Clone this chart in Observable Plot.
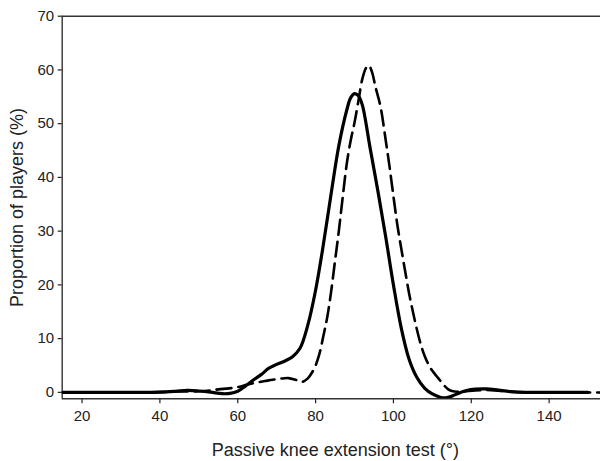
<!DOCTYPE html>
<html>
<head>
<meta charset="utf-8">
<script src="https://cdn.jsdelivr.net/npm/d3@7"></script>
<script src="https://cdn.jsdelivr.net/npm/@observablehq/plot@0.6"></script>
<style>
  body { margin: 0; background: #fff; }
  svg { display: block; }
</style>
</head>
<body>
<div id="chart"></div>
<script>
// Distribution of passive knee extension test angles (proportion of players)
// Solid curve
const solidAngle = [15, 25, 35, 40, 44, 47, 50, 53, 56, 58,
  60, 62, 64, 66, 68, 70, 72, 74, 76, 78,
  80, 82, 84, 86, 88, 89, 90, 91, 92, 94,
  96, 98, 100, 102, 104, 106, 108, 110, 112, 113.5,
  115, 117, 119, 121, 124, 127, 130, 134, 140, 150];
const solidPct = [0, 0, 0, 0.05, 0.2, 0.35, 0.25, 0.05, -0.25, -0.2,
  0.2, 1.2, 2.3, 3.3, 4.5, 5.2, 5.8, 6.6, 8.2, 12.5,
  19, 27.5, 37, 46, 52.5, 54.8, 55.6, 55.2, 53.5, 45.5,
  37.5, 29, 20, 12, 6.2, 2.8, 0.8, -0.3, -0.9, -1.0,
  -0.7, -0.1, 0.4, 0.6, 0.65, 0.4, 0.15, 0, 0, 0];

// Dashed curve
const dashAngle = [15, 30, 40, 45, 50, 53, 55, 57, 59, 61,
  63, 65, 67, 69, 71, 73, 75, 76.5, 78, 79,
  80, 81, 82, 83, 84, 85, 86, 87, 88, 89,
  90, 91, 92, 93, 93.7, 94.5, 95.4, 96.7, 98, 99,
  100, 101, 102, 103, 104, 105, 106, 107, 108, 109,
  110, 111, 112, 113, 114, 115, 117, 121, 124, 127,
  130, 135, 160];
const dashPct = [0, 0, 0.05, 0.15, 0.2, 0.35, 0.55, 0.7, 0.85, 1.15,
  1.55, 1.85, 2.1, 2.35, 2.55, 2.65, 2.3, 1.95, 2.6, 3.6,
  5.0, 7.2, 10.5, 14.0, 18.8, 24.5, 30.2, 36.5, 42.5, 46.8,
  50.2, 54.2, 58.3, 60.4, 60.8, 59.6, 56.8, 53.1, 47, 42,
  36.5, 31.2, 26.8, 22.6, 18.5, 15, 11.8, 9.0, 6.8, 5.2,
  4.0, 3.1, 2.2, 1.3, 0.6, 0.25, 0.1, 0.35, 0.45, 0.3,
  0.1, 0, 0];

const xTicks = [20, 40, 60, 80, 100, 120, 140];
const yTicks = [0, 10, 20, 30, 40, 50, 60, 70];
const xTitle = "Passive knee extension test (°)";
const yTitle = "Proportion of players (%)";

const solid = solidAngle.map((a, i) => ({angle: a, pct: solidPct[i]}));
const dashed = dashAngle.map((a, i) => ({angle: a, pct: dashPct[i]}));

const xMin = 14.9, xMax = 153.2, yMin = -1.2, yMax = 70;

const chart = Plot.plot({
  width: 600,
  height: 461,
  marginLeft: 61.7,
  marginRight: 0,
  marginTop: 15.7,
  marginBottom: 62.7,
  style: {fontFamily: "'Liberation Sans', Arial, sans-serif", background: "#fff", color: "#222"},
  x: {domain: [xMin, xMax]},
  y: {domain: [yMin, yMax]},
  marks: [
    Plot.ruleX([xMin], {stroke: "#333", strokeWidth: 1.4}),
    Plot.ruleY([yMax, yMin], {stroke: "#333", strokeWidth: 1.4}),
    Plot.axisY({ticks: yTicks, tickSize: 4, tickPadding: 4, fontSize: 15, label: null, strokeWidth: 1.2}),
    Plot.axisX({ticks: xTicks, tickSize: 5, tickPadding: 7, fontSize: 15, label: null, strokeWidth: 1.2}),
    Plot.line(dashed, {x: "angle", y: "pct", curve: "catmull-rom", stroke: "#000",
      strokeWidth: 2.6, strokeDasharray: "15,7", clip: true}),
    Plot.line(solid, {x: "angle", y: "pct", curve: "catmull-rom", stroke: "#000",
      strokeWidth: 3.2, clip: true}),
    Plot.text([yTitle], {frameAnchor: "left", dx: -45, rotate: -90, textAnchor: "middle",
      fontSize: 18, fill: "#222"}),
    Plot.text([xTitle], {frameAnchor: "bottom", dx: 4, dy: 57, textAnchor: "middle",
      fontSize: 18, fill: "#222"})
  ]
});

document.getElementById("chart").appendChild(chart);
</script>
</body>
</html>
